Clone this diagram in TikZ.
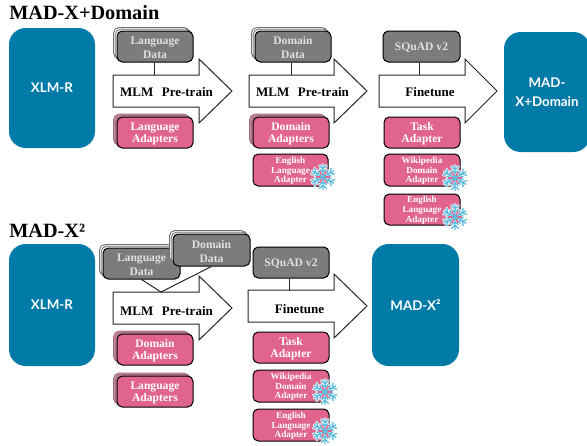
\documentclass[tikz,border=0pt]{standalone}
\usepackage{fontspec}
\setmainfont{Liberation Serif}
\newfontfamily\lato{Lato}
\usetikzlibrary{shadows}
\definecolor{teal1}{HTML}{007BA7}
\definecolor{grey1}{HTML}{7C7C7C}
\definecolor{pink1}{HTML}{E0648C}
\definecolor{pink2}{HTML}{C7899C}
\definecolor{ice}{HTML}{5CBBDD}
\newcommand{\dn}{\rule{0pt}{8pt}}
\newcommand{\dns}{\rule{0pt}{6pt}}
\tikzset{
  model/.style={fill=teal1,draw=none,rounded corners=12.5pt,text=white,align=center,font=\lato\bfseries\fontsize{10}{14}\selectfont,inner sep=0pt},
  boxbase/.style={rounded corners=4pt,draw=black,line width=0.75pt,align=center,inner sep=0pt,font=\bfseries\fontsize{8.7}{10.4}\selectfont},
  data/.style={boxbase,fill=grey1,text=white!88!black},
  adapter/.style={boxbase,fill=pink1,text=white,font=\bfseries\fontsize{8.7}{9.2}\selectfont},
  small/.style={adapter,font=\bfseries\fontsize{6.9}{7.3}\selectfont},
  stacked/.style={double copy shadow={shadow xshift=-1.3pt,shadow yshift=1.3pt,fill=white,draw=black!55,line width=0.7pt}},
  stackedp/.style={double copy shadow={shadow xshift=-1.3pt,shadow yshift=1.1pt,fill=pink2,draw=pink2!80!black,line width=0.5pt}},
  bigarrow/.style={draw=black!85,fill=white,line width=0.75pt,line join=miter},
  arrowlabel/.style={font=\bfseries\fontsize{9.75}{12}\selectfont,inner sep=0pt},
  title/.style={font=\bfseries\fontsize{15.2}{18}\selectfont,anchor=base west,inner sep=0pt},
  link/.style={draw=black!85,line width=0.75pt}
}
\newcommand{\bx}[7]{\node[#6,minimum width={(#4-#2)*0.75pt},minimum height={(#5-#3)*0.75pt}] (#1) at ({(#2+#4)/2},{(#3+#5)/2}) {#7};}
% x1 x2(head base) x3(tip) ymid
\newcommand{\bigarr}[4]{\draw[bigarrow] (#1,#4-16) -- (#2,#4-16) -- (#2,#4-32) -- (#3,#4) -- (#2,#4+32) -- (#2,#4+16) -- (#1,#4+16) -- cycle;}
\newcommand{\snowarms}[2]{%
  \foreach \a in {0,60,...,300}{
    \draw[#1,line width=#2,rotate around={\a:(0,0)}] (0,0) -- (0,-12.5) (-3.6,-11.5) -- (0,-8.2) -- (3.6,-11.5) (-3.2,-7.6) -- (0,-4.8) -- (3.2,-7.6);
  }}
\newcommand{\snow}[2]{%
  \begin{scope}[shift={(#1,#2)},line cap=round]
    \snowarms{white}{2.1pt}
    \snowarms{ice}{0.95pt}
    \foreach \a in {30,90,...,330}{
      \draw[pink1,line width=1.1pt,rotate around={\a:(0,0)}] (0,-2.5) -- (0,-6.5);
    }
    \fill[ice] (0,0) circle (2.6);
  \end{scope}}
\begin{document}
\begin{tikzpicture}[x=0.75pt,y=-0.75pt]
\useasboundingbox (0,0) rectangle (587,446);
\clip (0,0) rectangle (587,446);
% ---- top
\node[title] (t1) at (9,20) {MAD-X+Domain};
\bx{xa}{9}{28}{95}{148}{model}{XLM-R}
\bx{ma}{504}{32}{590}{152}{model}{MAD-\\X+Domain}
\bigarr{113}{199}{232}{91}
\bigarr{249}{334}{367}{91}
\bigarr{379}{465}{497}{91}
\coordinate (ca) at (154,75);
\coordinate (cb) at (291,75);
\coordinate (cc) at (419,75);
\bx{lda}{117}{31}{193}{62}{data,stacked}{\dn Language\\Data}
\bx{dda}{255}{31}{331}{62}{data,stacked}{\dn Domain\\Data}
\bx{sqa}{383}{31}{460}{62}{data}{\dn SQuAD v2}
\draw[link] (lda.south -| ca) -- (ca);
\draw[link] (dda.south -| cb) -- (cb);
\draw[link] (sqa.south -| cc) -- (cc);
\node[arrowlabel] (la) at (166.5,92.2) {MLM\hspace{0.4em} Pre-train};
\node[arrowlabel] (lb) at (302.5,92.2) {MLM\hspace{0.4em} Pre-train};
\node[arrowlabel] (lc) at (430,92.2) {Finetune};
\bx{laa}{117}{117}{193}{148}{adapter,stackedp}{\dn Language\\Adapters}
\bx{daa}{253}{117}{329}{148}{adapter,stackedp}{\dn Domain\\Adapters}
\bx{eaa}{253}{154}{328}{186}{small}{\dns English\\Language\\Adapter}
\bx{taa}{384}{117}{460}{148}{adapter}{\dn Task\\Adapter}
\bx{waa}{384}{154}{460}{186}{small}{\dns Wikipedia\\Domain\\Adapter}
\bx{ebb}{384}{194}{460}{225}{small}{\dns English\\Language\\Adapter}
\snow{323}{177}
\snow{455}{178}
\snow{455}{217}
% ---- bottom
\node[title] (t2) at (9,237) {MAD-X²};
\bx{xb}{9}{244}{95}{366}{model}{XLM-R}
\bx{mb}{372}{244}{459}{366}{model}{MAD-X²}
\bigarr{113}{199}{232}{308}
\bigarr{248}{334}{367}{306}
\coordinate (cd) at (161,292);
\coordinate (ce) at (289,291);
\bx{ldb}{103}{248}{180}{279}{data,stacked}{\dn Language\\Data}
\bx{ddb}{173}{234}{250}{266}{data,stacked}{\dn Domain\\Data}
\bx{sqb}{253}{247}{329}{278}{data}{\dn SQuAD v2}
\draw[link] (ldb.south) -- (cd);
\draw[link] (ddb.south) -- (cd);
\draw[link] (sqb.south -| ce) -- (ce);
\node[arrowlabel] (ld) at (166.5,310.7) {MLM\hspace{0.4em} Pre-train};
\node[arrowlabel] (le) at (299.5,308.7) {Finetune};
\bx{dab}{117}{334}{193}{365}{adapter,stackedp}{\dn Domain\\Adapters}
\bx{lab}{117}{376}{193}{407}{adapter,stackedp}{\dn Language\\Adapters}
\bx{tab}{253}{332}{329}{363}{adapter}{\dn Task\\Adapter}
\bx{wab}{253}{370}{329}{402}{small}{\dns Wikipedia\\Domain\\Adapter}
\bx{ecc}{253}{409}{329}{441}{small}{\dns English\\Language\\Adapter}
\snow{325}{392}
\snow{325}{431}
\end{tikzpicture}
\end{document}
